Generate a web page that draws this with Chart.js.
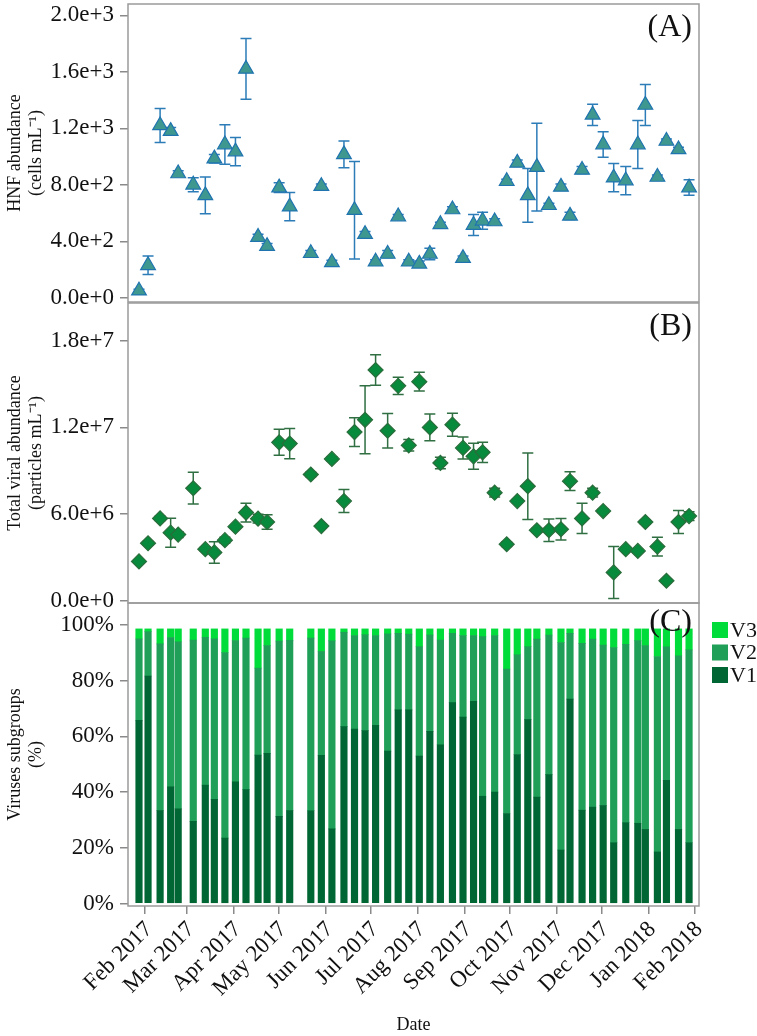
<!DOCTYPE html>
<html>
<head>
<meta charset="utf-8">
<script src="https://cdn.jsdelivr.net/npm/chart.js@4.4.1/dist/chart.umd.min.js"></script>
<style>
  body { margin: 0; background: #fff; }
  #wrap { position: relative; width: 757px; height: 1036px; }
  canvas { position: absolute; left: 0; }
</style>
</head>
<body>
<div id="wrap">
  <canvas id="hnf" width="757" height="320" style="top:0"></canvas>
  <canvas id="vir" width="757" height="320" style="top:302px"></canvas>
  <canvas id="sub" width="757" height="434" style="top:602px"></canvas>
</div>
<script>
// sampling dates
const sampleDates = [
  '2017-01-28', '2017-02-03', '2017-02-11', '2017-02-18', '2017-02-23',
  '2017-03-05', '2017-03-13', '2017-03-19', '2017-03-26', '2017-04-02',
  '2017-04-09', '2017-04-17', '2017-04-23', '2017-05-01', '2017-05-08',
  '2017-05-22', '2017-05-29', '2017-06-05', '2017-06-13', '2017-06-20',
  '2017-06-27', '2017-07-04', '2017-07-12', '2017-07-19', '2017-07-26',
  '2017-08-02', '2017-08-09', '2017-08-16', '2017-08-24', '2017-08-31',
  '2017-09-07', '2017-09-13', '2017-09-21', '2017-09-29', '2017-10-06',
  '2017-10-13', '2017-10-19', '2017-10-27', '2017-11-04', '2017-11-10',
  '2017-11-18', '2017-11-25', '2017-12-02', '2017-12-09', '2017-12-17',
  '2017-12-25', '2017-12-30', '2018-01-07', '2018-01-13', '2018-01-21',
  '2018-01-28'
];

// (A) HNF abundance, cells per mL, with SD
const hnf = [
  50, 230, 1220, 1180, 880, 800, 725, 985, 1085, 1035,
  1620, 430, 365, 780, 645, 315, 790, 250, 1015, 620,
  450, 255, 310, 575, 255, 240, 310, 520, 625, 280,
  515, 545, 540, 825, 955, 725, 925, 655, 785, 580,
  905, 1295, 1085, 850, 830, 1085, 1365, 855, 1110, 1050,
  780
];
const hnfErr = [
  10, 65, 120, 25, 20, 50, 130, 30, 140, 100,
  215, 20, 20, 35, 100, 20, 15, 15, 95, 345,
  20, 15, 25, 15, 15, 20, 40, 15, 20, 15,
  75, 60, 20, 15, 20, 190, 310, 15, 20, 25,
  25, 75, 90, 100, 100, 170, 145, 15, 15, 15,
  55
];

// (B) total viral abundance, particles per mL, with SD
const viral = [
  2.72e6, 3.98e6, 5.70e6, 4.71e6, 4.58e6, 7.79e6, 3.57e6, 3.34e6, 4.19e6, 5.13e6,
  6.10e6, 5.68e6, 5.45e6, 1.097e7, 1.088e7, 8.74e6, 5.17e6, 9.82e6, 6.90e6, 1.168e7,
  1.253e7, 1.598e7, 1.177e7, 1.488e7, 1.076e7, 1.517e7, 1.200e7, 9.54e6, 1.219e7, 1.058e7,
  1.000e7, 1.028e7, 7.48e6, 3.91e6, 6.90e6, 7.93e6, 4.88e6, 4.88e6, 4.95e6, 8.28e6,
  5.70e6, 7.48e6, 6.21e6, 1.96e6, 3.57e6, 3.45e6, 5.45e6, 3.75e6, 1.38e6, 5.45e6,
  5.86e6
];
const viralErr = [
  1.2e5, 1.2e5, 1.5e5, 1.0e6, 2.0e5, 1.1e6, 1.5e5, 7.5e5, 2.0e5, 1.0e5,
  6.5e5, 3.0e5, 5.0e5, 9.0e5, 1.05e6, 1.5e5, 1.2e5, 1.5e5, 8.0e5, 1.0e6,
  2.35e6, 1.05e6, 1.2e6, 6.0e5, 4.0e5, 6.5e5, 9.3e5, 4.0e5, 8.0e5, 7.6e5,
  9.0e5, 7.0e5, 3.0e5, 1.5e5, 1.2e5, 2.3e6, 1.2e5, 7.8e5, 7.5e5, 6.5e5,
  1.05e6, 3.0e5, 1.2e5, 1.8e6, 1.2e5, 1.2e5, 1.5e5, 6.5e5, 1.2e5, 8.0e5,
  3.0e5
];

// (C) virus subgroups, % of total
const v1 = [
  65.8, 81.7, 33.4, 41.9, 34.0, 29.5, 42.5, 37.4, 23.5, 43.7,
  40.9, 53.3, 53.9, 31.3, 33.4, 33.3, 53.2, 26.8, 63.5, 62.6,
  62.1, 64.0, 54.7, 69.5, 69.5, 52.9, 61.8, 57.0, 72.1, 66.9,
  72.6, 38.5, 40.0, 32.3, 53.5, 66.0, 38.2, 46.3, 19.2, 73.4,
  33.5, 34.6, 35.2, 21.8, 29.0, 28.8, 26.6, 18.5, 44.2, 26.6,
  21.8
];
const v2 = [
  29.2, 15.9, 59.8, 53.6, 60.0, 65.1, 53.1, 57.6, 66.6, 50.7,
  54.4, 31.2, 38.7, 62.9, 61.1, 62.0, 37.3, 67.5, 33.9, 33.6,
  34.4, 32.2, 42.1, 27.5, 27.2, 39.3, 34.6, 37.6, 24.9, 29.3,
  23.6, 57.3, 56.2, 51.9, 35.8, 26.2, 56.7, 50.1, 74.5, 23.6,
  59.9, 60.3, 57.6, 70.1, 64.1, 65.6, 66.0, 70.2, 48.0, 62.3,
  69.3
];
const v3 = [
  3.6, 1.0, 5.4, 3.1, 4.6, 4.0, 3.0, 3.6, 8.5, 4.2,
  3.3, 14.1, 6.0, 4.4, 4.1, 3.3, 8.1, 4.3, 1.2, 2.4,
  2.1, 2.4, 1.8, 1.6, 1.9, 6.4, 2.2, 4.0, 1.6, 2.4,
  2.4, 2.8, 2.4, 14.4, 9.3, 6.4, 3.7, 2.2, 4.9, 1.6,
  5.2, 3.7, 5.8, 6.7, 5.5, 4.2, 6.0, 9.9, 6.4, 9.7,
  7.5
];

const monthTicks = [
  '2017-02-01', '2017-03-01', '2017-04-01', '2017-05-01', '2017-06-01',
  '2017-07-01', '2017-08-01', '2017-09-01', '2017-10-01', '2017-11-01',
  '2017-12-01', '2018-01-01', '2018-02-01'
];
const monthLabels = [
  'Feb 2017', 'Mar 2017', 'Apr 2017', 'May 2017', 'Jun 2017', 'Jul 2017',
  'Aug 2017', 'Sep 2017', 'Oct 2017', 'Nov 2017', 'Dec 2017', 'Jan 2018', 'Feb 2018'
];
const hnfTicks = [0, 400, 800, 1200, 1600, 2000];
const viralTicks = [0, 6e6, 1.2e7, 1.8e7];
const pctTicks = [0, 20, 40, 60, 80, 100];

// days since 1 Feb 2017
const origin = Date.parse('2017-02-01');
const toDay = s => (Date.parse(s) - origin) / 86400000;
const days = sampleDates.map(toDay);
const monthDays = monthTicks.map(toDay);

const SERIF = "'Liberation Serif', 'Times New Roman', serif";
const INK = '#111';
const X_MIN = -11.3, X_MAX = 367.6;

const errorBars = {
  id: 'errorBars',
  beforeDatasetsDraw(chart) {
    const { ctx, scales: { x, y } } = chart;
    chart.data.datasets.forEach(ds => {
      if (!ds.errors) return;
      ctx.save();
      ctx.strokeStyle = ds.errorColor;
      ctx.lineWidth = 1.5;
      ds.data.forEach((p, i) => {
        const px = x.getPixelForValue(p.x);
        const top = y.getPixelForValue(p.y + ds.errors[i]);
        const bot = y.getPixelForValue(p.y - ds.errors[i]);
        ctx.beginPath();
        ctx.moveTo(px, top); ctx.lineTo(px, bot);
        ctx.moveTo(px - 5.5, top); ctx.lineTo(px + 5.5, top);
        ctx.moveTo(px - 5.5, bot); ctx.lineTo(px + 5.5, bot);
        ctx.stroke();
      });
      ctx.restore();
    });
  }
};

// box around the plot + panel letter (+ legend for C)
const frame = {
  id: 'frame',
  afterDraw(chart, args, opts) {
    const { ctx, chartArea: a } = chart;
    ctx.save();
    ctx.strokeStyle = '#9a9a9a';
    ctx.lineWidth = 1.5;
    ctx.strokeRect(a.left, a.top, a.right - a.left, a.bottom - a.top);
    ctx.fillStyle = INK;
    ctx.font = '32px ' + SERIF;
    ctx.textAlign = 'right';
    ctx.textBaseline = 'middle';
    ctx.fillText(opts.label, a.right - 7, a.top + opts.labelY);
    if (opts.legend) {
      const sets = chart.data.datasets.slice().reverse();
      ctx.font = '22px ' + SERIF;
      ctx.textAlign = 'left';
      sets.forEach((ds, i) => {
        const y = 20 + i * 22.5;
        ctx.fillStyle = ds.backgroundColor;
        ctx.fillRect(712, y, 16, 16);
        ctx.fillStyle = INK;
        ctx.fillText(ds.label, 730, y + 9);
      });
    }
    ctx.restore();
  }
};

function yAxis(min, max, ticks, fmt, title) {
  return {
    min, max,
    afterBuildTicks: s => { s.ticks = ticks.map(v => ({ value: v })); },
    afterFit: s => { s.width = 128; s.paddingTop = 0; s.paddingBottom = 0; },
    ticks: { callback: fmt, font: { family: SERIF, size: 23 }, color: INK, padding: 6 },
    grid: { drawOnChartArea: false, tickLength: 8, color: '#8a8a8a', lineWidth: 1.5 },
    border: { display: false },
    title: {
      display: true, text: title, color: INK,
      font: { family: SERIF, size: 18 }, padding: { top: 4, bottom: 0 }
    }
  };
}

const expFmt = v => Number(v).toExponential(1);

function pointChart(id, values, errors, tickVals, yMin, yMax, title, style, label, padTop, padBottom) {
  return new Chart(document.getElementById(id), {
    type: 'scatter',
    data: {
      datasets: [{
        data: days.map((d, i) => ({ x: d, y: values[i] })),
        errors,
        errorColor: style.err,
        pointStyle: style.shape,
        radius: style.r,
        hoverRadius: style.r,
        backgroundColor: style.fill,
        borderColor: style.line,
        borderWidth: 1.2
      }]
    },
    options: {
      responsive: false,
      animation: false,
      layout: { autoPadding: false, padding: { top: padTop, bottom: padBottom, left: 0, right: 58 } },
      scales: {
        x: { type: 'linear', min: X_MIN, max: X_MAX, display: false },
        y: yAxis(yMin, yMax, tickVals, expFmt, title)
      },
      plugins: {
        legend: { display: false },
        tooltip: { enabled: false },
        frame: { label, labelY: 24 }
      }
    },
    plugins: [errorBars, frame]
  });
}

pointChart('hnf', hnf, hnfErr, hnfTicks, -30, 2080,
  ['HNF abundance', '(cells mL\u207B\u00B9)'],
  { shape: 'triangle', r: 8.5, fill: '#3f988f', line: '#1f74b0', err: '#2c7cb8' },
  '(A)', 4, 18);

pointChart('vir', viral, viralErr, viralTicks, -1.6e5, 2.062e7,
  ['Total viral abundance', '(particles mL\u207B\u00B9)'],
  { shape: 'rectRot', r: 7.5, fill: '#078a3b', line: '#2b6d3c', err: '#2f6f42' },
  '(B)', 1, 19);

const bar = (label, vals, color) => ({
  label,
  data: days.map((d, i) => ({ x: d, y: vals[i] })),
  backgroundColor: color,
  barThickness: 6.5,
  borderWidth: 0
});

new Chart(document.getElementById('sub'), {
  type: 'bar',
  data: {
    datasets: [
      bar('V1', v1, '#006633'),
      bar('V2', v2, '#1f9f57'),
      bar('V3', v3, '#00dc3a')
    ]
  },
  options: {
    responsive: false,
    animation: false,
    layout: { autoPadding: false, padding: { top: 1, bottom: 0, left: 0, right: 58 } },
    scales: {
      x: {
        type: 'linear', min: X_MIN, max: X_MAX, stacked: true, offset: false,
        afterBuildTicks: s => { s.ticks = monthDays.map(v => ({ value: v })); },
        afterFit: s => { s.height = 130; s.paddingLeft = 0; s.paddingRight = 0; },
        ticks: {
          autoSkip: false, minRotation: 45, maxRotation: 45, padding: 2, labelOffset: 4,
          font: { family: SERIF, size: 23 }, color: INK,
          callback: v => monthLabels[monthDays.indexOf(v)]
        },
        grid: { drawOnChartArea: false, offset: false, tickLength: 8, color: '#8a8a8a', lineWidth: 1.5 },
        border: { display: false },
        title: {
          display: true, text: 'Date', color: INK,
          font: { family: SERIF, size: 18 }, padding: { top: 0, bottom: 0 }
        }
      },
      y: Object.assign(yAxis(-0.9, 107.9, pctTicks, v => v + '%', ['Viruses subgroups', '(%)']), { stacked: true })
    },
    plugins: {
      legend: { display: false },
      tooltip: { enabled: false },
      frame: { label: '(C)', labelY: 20, legend: true }
    }
  },
  plugins: [frame]
});
</script>
</body>
</html>
